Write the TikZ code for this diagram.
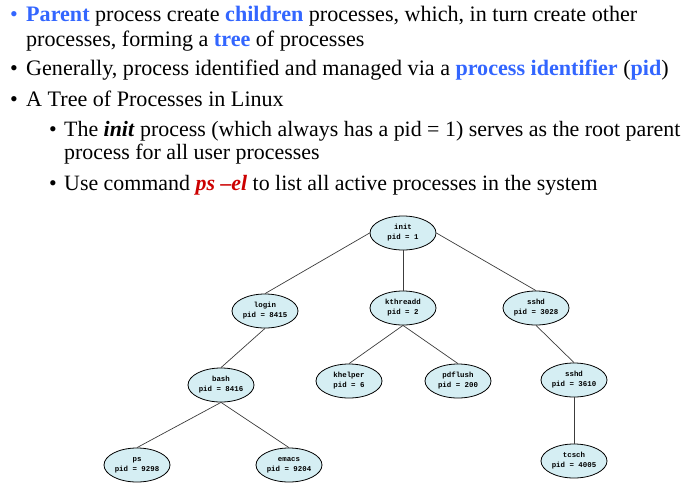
\documentclass[tikz,border=0pt]{standalone}
\usepackage{fontspec}
\setmainfont{Liberation Serif}
\newfontfamily\pidfont{Liberation Mono}
\usetikzlibrary{shapes.geometric}
\definecolor{myblue}{RGB}{51,102,255}
\definecolor{myred}{RGB}{204,0,0}
\definecolor{procfill}{RGB}{213,238,243}
\definecolor{edgecol}{RGB}{60,60,60}
\tikzset{
  proc/.style={ellipse, draw=black, line width=0.8pt, fill=procfill,
    minimum width=66pt, minimum height=34pt, inner sep=0pt, align=center,
    font=\pidfont\bfseries\fontsize{7.4}{10}\selectfont},
  link/.style={draw=edgecol, line width=0.7pt},
  bigtext/.style={anchor=base west, inner sep=0pt, font=\fontsize{22.1}{25}\selectfont},
  subtext/.style={anchor=base west, inner sep=0pt, font=\fontsize{21.9}{24}\selectfont},
}
\begin{document}
\begin{tikzpicture}[x=1pt,y=-1pt]
\useasboundingbox (0,0) rectangle (683,496);
% bullets and text
\node[bigtext, text=myblue] (b1) at (10,21.7) {•};
\node[bigtext] (l1) at (26,21.7) {{\color{myblue}\bfseries Parent} process create {\color{myblue}\bfseries children} processes, which, in turn create other};
\node[bigtext] (l2) at (26,46.7) {processes, forming a {\color{myblue}\bfseries tree} of processes};
\node[bigtext] (b3) at (10,75) {•};
\node[bigtext] (l3) at (26,75) {Generally, process identified and managed via a {\color{myblue}\bfseries process identifier} ({\color{myblue}\bfseries pid})};
\node[bigtext] (b4) at (10,106) {•};
\node[bigtext] (l4) at (26,106) {A Tree of Processes in Linux};
\node[subtext] (b5) at (49,136) {•};
\node[subtext] (l5) at (64,136) {The \textbf{\textit{init}} process (which always has a pid = 1) serves as the root parent};
\node[subtext] (l6) at (64,159.3) {process for all user processes};
\node[subtext] (b7) at (49,190) {•};
\node[subtext] (l7) at (64,190) {Use command {\color{myred}\bfseries\itshape ps –el} to list all active processes in the system};
% tree
\node[proc] (init) at (403,233) {init\\pid = 1};
\node[proc] (login) at (265,311) {login\\pid = 8415};
\node[proc] (kthreadd) at (403,308) {kthreadd\\pid = 2};
\node[proc] (sshdA) at (536,308) {sshd\\pid = 3028};
\node[proc] (bash) at (221,385) {bash\\pid = 8416};
\node[proc] (khelper) at (349,381) {khelper\\pid = 6};
\node[proc] (pdflush) at (458,381) {pdflush\\pid = 200};
\node[proc] (sshdB) at (574,380) {sshd\\pid = 3610};
\node[proc] (ps) at (137,465) {ps\\pid = 9298};
\node[proc] (emacs) at (289,465) {emacs\\pid = 9204};
\node[proc] (tcsch) at (574,461) {tcsch\\pid = 4005};
\draw[link] (init.west) -- (login.north);
\draw[link] (init.south) -- (kthreadd.north);
\draw[link] (init.east) -- (sshdA.north);
\draw[link] (login.south) -- (bash.north);
\draw[link] (bash.south) -- (ps.north);
\draw[link] (bash.south) -- (emacs.north);
\draw[link] (kthreadd.south) -- (khelper.north);
\draw[link] (kthreadd.south) -- (pdflush.north);
\draw[link] (sshdA.south) -- (sshdB.north);
\draw[link] (sshdB.south) -- (tcsch.north);
\end{tikzpicture}
\end{document}
